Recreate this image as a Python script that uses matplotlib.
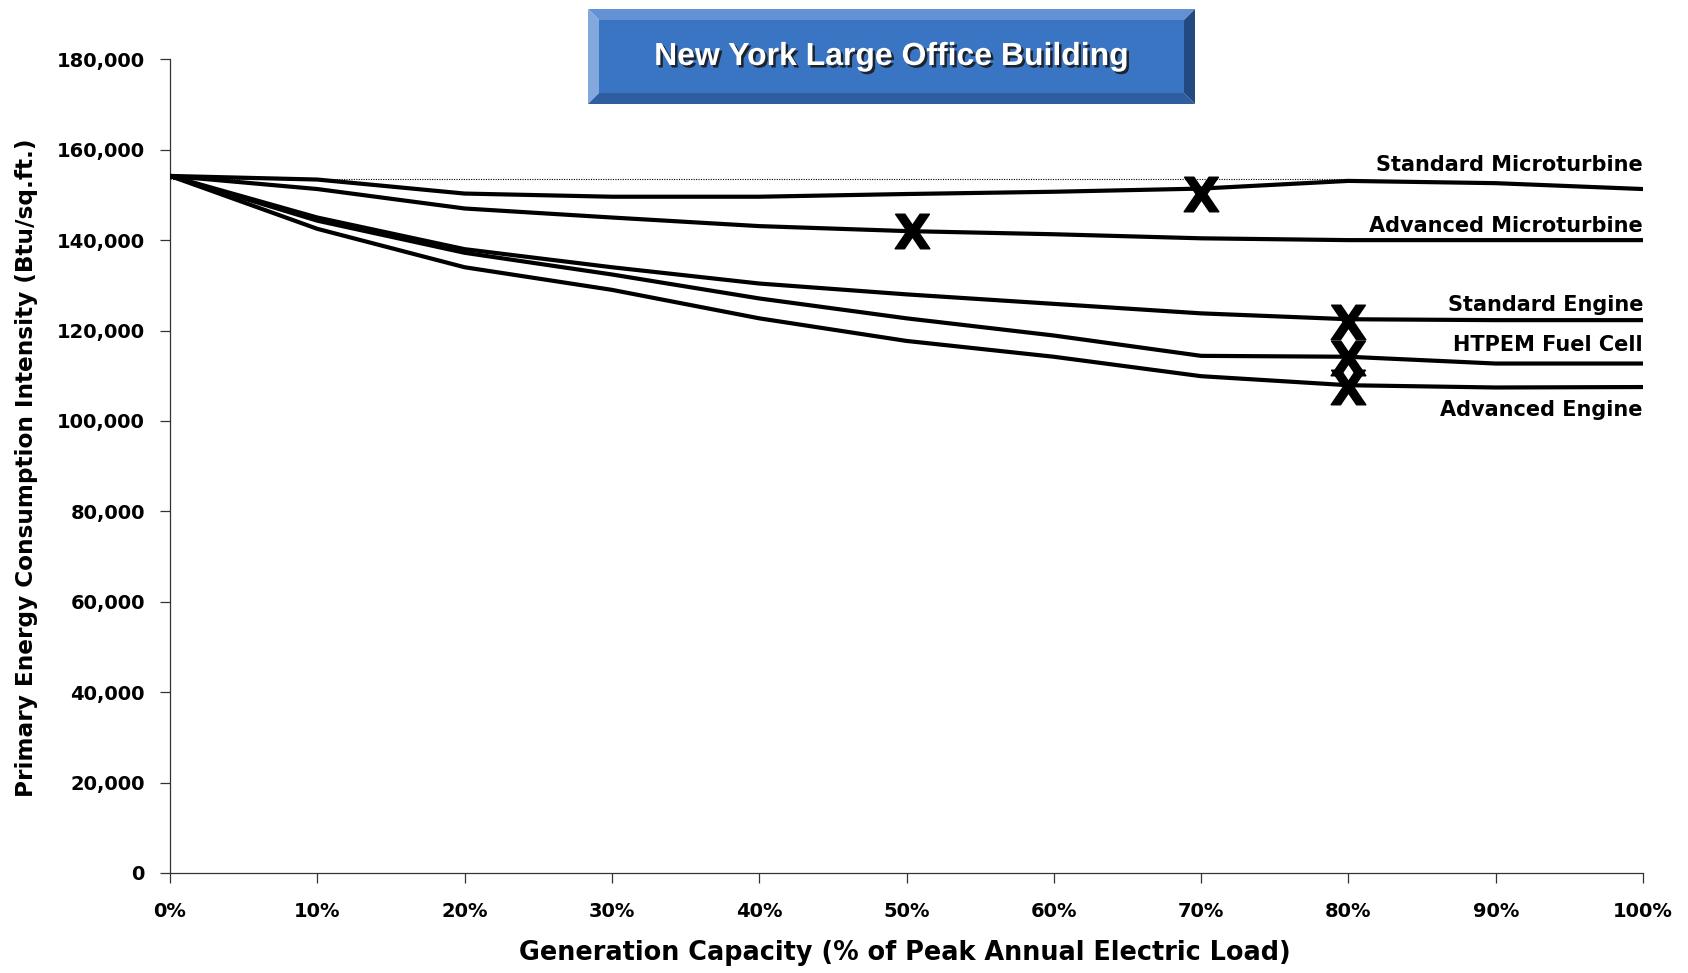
import matplotlib
matplotlib.use("Agg")
import matplotlib.pyplot as plt
from matplotlib.patches import Polygon
import matplotlib.patheffects as pe

# ---------------- data ----------------
capacity = [0, 10, 20, 30, 40, 50, 60, 70, 80, 90, 100]

std_microturbine = [154200, 153400, 150300, 149600, 149600, 150200, 150700, 151400, 153100, 152600, 151300]
adv_microturbine = [154200, 151300, 147000, 145000, 143100, 142000, 141300, 140400, 140000, 140000, 140000]
std_engine = [154200, 145000, 138000, 134000, 130400, 128000, 125900, 123800, 122500, 122300, 122300]
htpem_fuel_cell = [154200, 144300, 137200, 132400, 127100, 122700, 118900, 114400, 114200, 112700, 112700]
adv_engine = [154200, 142500, 134000, 129000, 122700, 117700, 114200, 109900, 107900, 107400, 107500]

baseline_x = [0, 80]
baseline_y = [153500, 153500]

series_names = ["Standard Microturbine", "Advanced Microturbine", "Standard Engine",
                "HTPEM Fuel Cell", "Advanced Engine"]
label_y = [156600, 143100, 125700, 116900, 102400]

marker_x = [70, 50.4, 80, 80, 80]
marker_y = [150200, 142000, 121900, 114000, 107600]

y_ticks = [0, 20000, 40000, 60000, 80000, 100000, 120000, 140000, 160000, 180000]
x_ticks = [0, 10, 20, 30, 40, 50, 60, 70, 80, 90, 100]

title = "New York Large Office Building"
x_label = "Generation Capacity (% of Peak Annual Electric Load)"
y_label = "Primary Energy Consumption Intensity (Btu/sq.ft.)"

# ---------------- figure ----------------
W, H = 1688, 973
fig = plt.figure(figsize=(W / 100, H / 100), dpi=100)
ax = fig.add_axes([170 / W, 1 - 873 / H, (1643 - 170) / W, (873 - 59.3) / H])

lw = 3.0
for ys in [std_microturbine, adv_microturbine, std_engine, htpem_fuel_cell, adv_engine]:
    ax.plot(capacity, ys, color="black", lw=lw, solid_joinstyle="round",
            solid_capstyle="round", zorder=3)

ax.plot(baseline_x, baseline_y, color="black", lw=0.8, ls=(0, (1, 1.2)), zorder=2)

ax.plot(marker_x, marker_y, ls="none", marker=r"$\mathbf{X}$", markersize=25,
        color="black", zorder=4)

for name, ly in zip(series_names, label_y):
    ax.text(100, ly, name, ha="right", va="center", fontsize=15,
            fontweight="bold", family="DejaVu Sans", color="black")

ax.set_xlim(0, 100)
ax.set_ylim(0, 180000)
ax.set_xticks(x_ticks)
ax.set_xticklabels([f"{v}%" for v in x_ticks])
ax.set_yticks(y_ticks)
ax.set_yticklabels([f"{v:,}" for v in y_ticks])

for s in ["top", "right"]:
    ax.spines[s].set_visible(False)
for s in ["left", "bottom"]:
    ax.spines[s].set_color("#333333")
    ax.spines[s].set_linewidth(0.9)

ax.tick_params(axis="both", direction="out", length=7, width=0.9, color="#333333")
ax.tick_params(axis="y", pad=11)
ax.tick_params(axis="x", pad=14)
for lab in ax.get_xticklabels() + ax.get_yticklabels():
    lab.set_fontsize(14)
    lab.set_fontweight("bold")
    lab.set_family("DejaVu Sans")

fig.text(905 / W, 1 - 953 / H, x_label, ha="center", va="center", fontsize=18.4,
         fontweight="bold", family="DejaVu Sans")
fig.text(27 / W, 1 - 468 / H, y_label, ha="center", va="center", rotation=90,
         fontsize=16.7, fontweight="bold", family="DejaVu Sans")

# ---------------- bevelled title box ----------------
x0, x1 = 588, 1195
y0, y1 = 9, 104  # top-left pixel coordinates
b = 11


def P(x, y):
    return (x / W, 1 - y / H)


faces = [
    ([P(x0, y0), P(x1, y0), P(x1 - b, y0 + b), P(x0 + b, y0 + b)], "#6391d3"),   # top
    ([P(x0, y0), P(x0 + b, y0 + b), P(x0 + b, y1 - b), P(x0, y1)], "#82a8dd"),   # left
    ([P(x0, y1), P(x0 + b, y1 - b), P(x1 - b, y1 - b), P(x1, y1)], "#2e5e9f"),   # bottom
    ([P(x1, y0), P(x1, y1), P(x1 - b, y1 - b), P(x1 - b, y0 + b)], "#234a80"),   # right
    ([P(x0 + b, y0 + b), P(x1 - b, y0 + b), P(x1 - b, y1 - b), P(x0 + b, y1 - b)], "#3a75c4"),
]
for pts, col in faces:
    fig.patches.append(Polygon(pts, closed=True, transform=fig.transFigure,
                               facecolor=col, edgecolor="none", zorder=1))

t = fig.text((x0 + x1) / 2 / W, 1 - 57 / H, title, ha="center", va="center",
             fontsize=23, fontweight="bold", family="Liberation Sans", color="white",
             zorder=5)
t.set_path_effects([pe.withSimplePatchShadow(offset=(1.8, -1.8), shadow_rgbFace="#1a1a1a",
                                             alpha=0.9)])

fig.savefig("out.png", dpi=100, facecolor="white")
